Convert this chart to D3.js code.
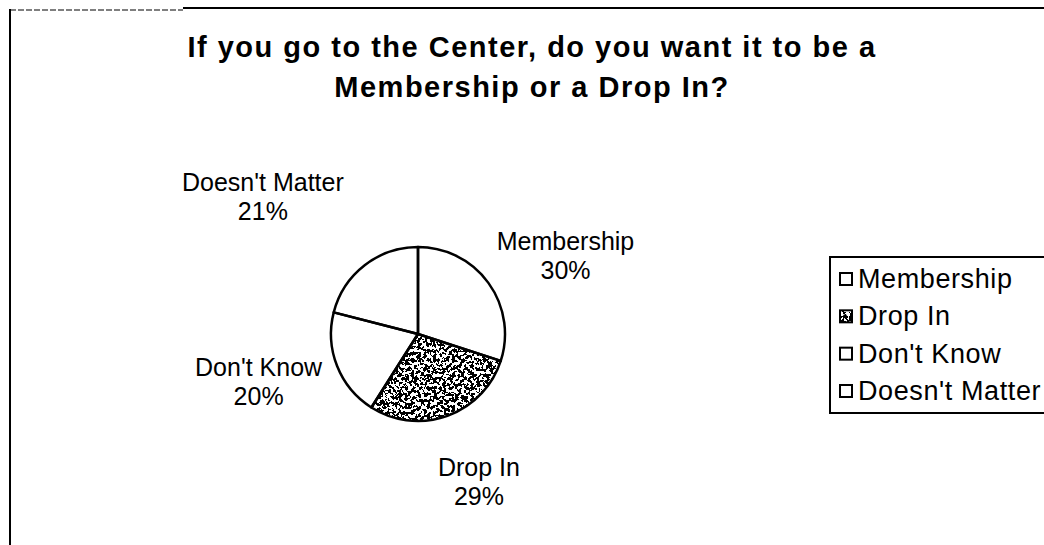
<!DOCTYPE html>
<html>
<head>
<meta charset="utf-8">
<script src="https://cdn.jsdelivr.net/npm/d3@7/dist/d3.min.js"></script>
<style>
  html, body { margin: 0; padding: 0; background: #fff; }
  svg { display: block; }
  text { font-family: "Liberation Sans", Arial, sans-serif; fill: #000; }
</style>
</head>
<body>
<svg id="chart" width="1044" height="545"></svg>
<script>
// Survey answers and their shares (percent)
const categories = ["Membership", "Drop In", "Don't Know", "Doesn't Matter"];
const shares = [30, 29, 20, 21];
const titleLines = ["If you go to the Center, do you want it to be a", "Membership or a Drop In?"];

const W = 1044, H = 545;
const svg = d3.select("#chart");

// speckled fill used for the "Drop In" slice
const defs = svg.append("defs");
const f = defs.append("filter").attr("id", "speckle")
  .attr("x", 0).attr("y", 0).attr("width", 1).attr("height", 1);
f.append("feTurbulence").attr("type", "fractalNoise").attr("baseFrequency", 0.32)
  .attr("numOctaves", 3).attr("seed", 7).attr("result", "noise");
f.append("feColorMatrix").attr("in", "noise").attr("type", "matrix")
  .attr("values", "0 0 0 0 0  0 0 0 0 0  0 0 0 0 0  1 0 0 0 0").attr("result", "a");
f.append("feComponentTransfer").attr("in", "a").attr("result", "t")
  .append("feFuncA").attr("type", "discrete").attr("tableValues", "0 0 1 1");
f.append("feComposite").attr("in", "t").attr("in2", "SourceGraphic").attr("operator", "in");

// outer frame (top and left edges)
svg.append("line").attr("x1", 10).attr("x2", 183).attr("y1", 10).attr("y2", 10)
  .attr("stroke", "#000").attr("stroke-width", 1.2).attr("stroke-dasharray", "6 2");
svg.append("line").attr("x1", 183).attr("x2", W).attr("y1", 8).attr("y2", 8)
  .attr("stroke", "#000").attr("stroke-width", 2);
svg.append("line").attr("x1", 10).attr("x2", 10).attr("y1", 9).attr("y2", H)
  .attr("stroke", "#000").attr("stroke-width", 2);

// title
svg.append("text").attr("x", 532).attr("y", 57).attr("text-anchor", "middle")
  .style("font-weight", "bold").style("font-size", "29px").style("letter-spacing", "1.5px")
  .selectAll("tspan").data(titleLines).join("tspan")
  .attr("x", 532).attr("dy", (d, i) => i === 0 ? 0 : 40).text(d => d);

// pie
const cx = 418, cy = 334, r = 87;
const pie = d3.pie().sort(null).value(d => d.v).startAngle(0).endAngle(2 * Math.PI);
const arcs = pie(categories.map((c, i) => ({ c, v: shares[i] })));
const arc = d3.arc().innerRadius(0).outerRadius(r);
const g = svg.append("g").attr("transform", `translate(${cx},${cy})`);

g.selectAll("path.base").data(arcs).join("path").attr("class", "base")
  .attr("d", arc).attr("fill", "#fff");
g.selectAll("path.spk").data(arcs.filter(d => d.data.c === "Drop In")).join("path")
  .attr("class", "spk").attr("d", arc).attr("fill", "#000").attr("filter", "url(#speckle)");
g.selectAll("path.edge").data(arcs).join("path").attr("class", "edge")
  .attr("d", arc).attr("fill", "none").attr("stroke", "#000").attr("stroke-width", 2.5)
  .attr("stroke-linejoin", "round");

// data labels placed around the pie
const labelArc = d3.arc().innerRadius(165).outerRadius(165);
const nudge = [[14, 19], [5, -7], [-6, -13], [-54, -7]];
const lab = g.selectAll("g.lab").data(arcs).join("g").attr("class", "lab")
  .attr("transform", (d, i) => {
    const [x, y] = labelArc.centroid(d);
    return `translate(${x + nudge[i][0]},${y + nudge[i][1]})`;
  });
lab.append("text").attr("text-anchor", "middle").attr("y", -6)
  .style("font-size", "25px").text(d => d.data.c);
lab.append("text").attr("text-anchor", "middle").attr("y", 23)
  .style("font-size", "25px").text(d => d.data.v + "%");

// legend
const lx = 830, ly = 257;
svg.append("rect").attr("x", lx).attr("y", ly).attr("width", 240).attr("height", 156)
  .attr("fill", "#fff").attr("stroke", "#000").attr("stroke-width", 2);
const rowY = d3.scalePoint().domain(categories).range([ly + 22, ly + 134]);
const item = svg.selectAll("g.leg").data(categories).join("g").attr("class", "leg")
  .attr("transform", d => `translate(${lx + 10},${rowY(d)})`);
item.append("rect").attr("x", 0).attr("y", -6).attr("width", 12).attr("height", 12)
  .attr("fill", "#fff");
item.filter(d => d === "Drop In").append("rect").attr("x", 0).attr("y", -6)
  .attr("width", 12).attr("height", 12).attr("fill", "#000").attr("filter", "url(#speckle)");
item.filter(d => d === "Drop In").append("circle").attr("cx", 5).attr("cy", 0).attr("r", 2)
  .attr("fill", "#000");
item.append("rect").attr("x", 0).attr("y", -6).attr("width", 12).attr("height", 12)
  .attr("fill", "none").attr("stroke", "#000").attr("stroke-width", 2);
item.append("text").attr("x", 18).attr("y", 9).style("font-size", "27px")
  .style("letter-spacing", "0.6px").text(d => d);
</script>
</body>
</html>
